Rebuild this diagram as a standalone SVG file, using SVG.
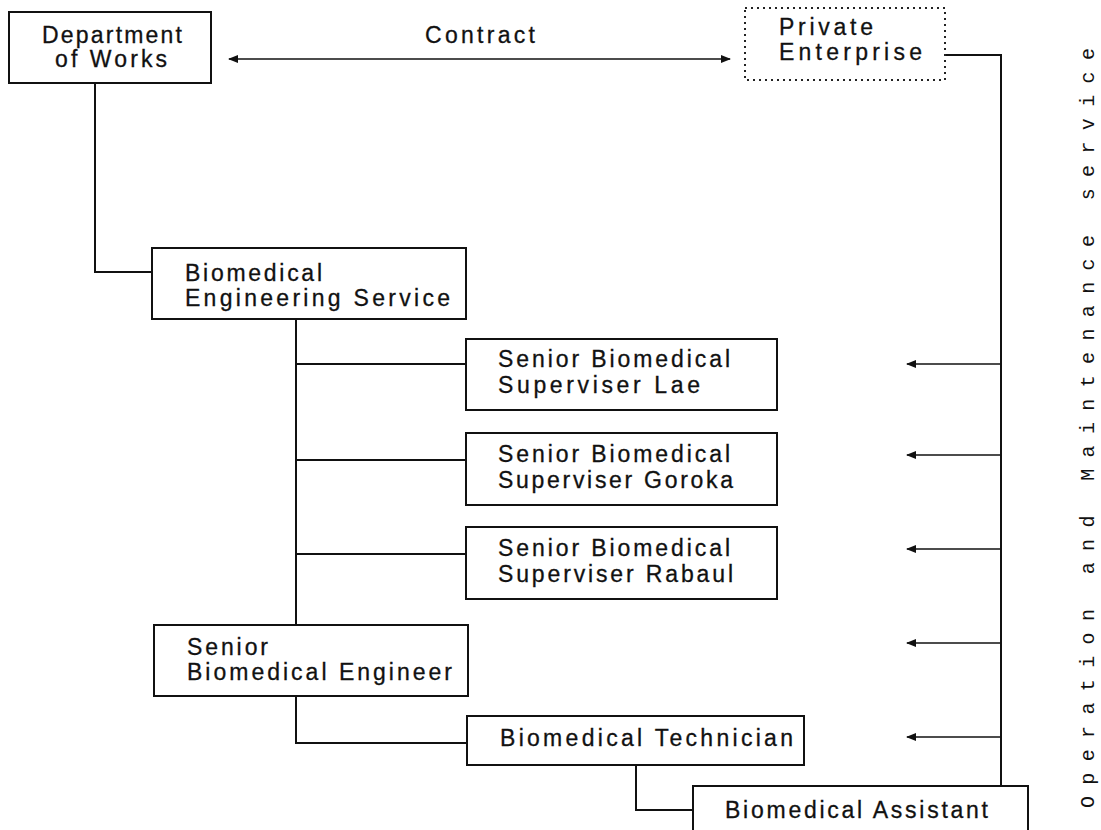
<svg xmlns="http://www.w3.org/2000/svg" width="1101" height="830" viewBox="0 0 1101 830">
<style>
.box{fill:#fff;stroke:#111;stroke-width:2}
.dot{fill:#fff;stroke:#222;stroke-width:2;stroke-dasharray:2 4}
.t{font-family:"Liberation Sans",Arial,sans-serif;font-size:23px;fill:#111;stroke:#111;stroke-width:0.3}
.ln{fill:none;stroke:#111;stroke-width:2}
.ar{fill:none;stroke:#111;stroke-width:1.6}
.v{font-family:"Liberation Mono","Courier New",monospace;font-size:20px;fill:#111}
</style>
<defs>
<marker id="ah" viewBox="0 0 10 10" refX="9" refY="5" markerWidth="10" markerHeight="10" markerUnits="userSpaceOnUse" orient="auto-start-reverse">
<path d="M0,1 L10,5 L0,9 Z" fill="#111"/>
</marker>
</defs>
<rect width="1101" height="830" fill="#fff"/>
<g id="connectors">
<line class="ar" x1="229" y1="59" x2="730" y2="59" marker-start="url(#ah)" marker-end="url(#ah)"/>
<polyline class="ln" points="95,83 95,272 152,272"/>
<polyline class="ln" points="945,55 1001,55 1001,786"/>
<line class="ln" x1="296" y1="320" x2="296" y2="625"/>
<line class="ln" x1="296" y1="364" x2="466" y2="364"/>
<line class="ln" x1="296" y1="460" x2="466" y2="460"/>
<line class="ln" x1="296" y1="554" x2="466" y2="554"/>
<polyline class="ln" points="296,696 296,743 467,743"/>
<polyline class="ln" points="636,765 636,810 693,810"/>
<line class="ar" x1="1001" y1="364" x2="907" y2="364" marker-end="url(#ah)"/>
<line class="ar" x1="1001" y1="455" x2="907" y2="455" marker-end="url(#ah)"/>
<line class="ar" x1="1001" y1="549" x2="907" y2="549" marker-end="url(#ah)"/>
<line class="ar" x1="1001" y1="643" x2="907" y2="643" marker-end="url(#ah)"/>
<line class="ar" x1="1001" y1="737" x2="907" y2="737" marker-end="url(#ah)"/>
<text class="t" x="425" y="43" textLength="110">Contract</text>
</g>
<g id="dept-works">
<rect class="box" x="9" y="12" width="202" height="71"/>
<text class="t" x="42" y="43" textLength="140">Department</text>
<text class="t" x="55" y="67" textLength="112">of Works</text>
</g>
<g id="private-enterprise">
<rect class="dot" x="745" y="8" width="200" height="72"/>
<text class="t" x="779" y="35" textLength="94">Private</text>
<text class="t" x="779" y="60" textLength="143">Enterprise</text>
</g>
<g id="bes">
<rect class="box" x="152" y="248" width="314" height="71"/>
<text class="t" x="185" y="281" textLength="137">Biomedical</text>
<text class="t" x="185" y="306" textLength="265">Engineering Service</text>
</g>
<g id="sup-lae">
<rect class="box" x="466" y="339" width="311" height="71"/>
<text class="t" x="498" y="367" textLength="232">Senior Biomedical</text>
<text class="t" x="498" y="393" textLength="202">Superviser Lae</text>
</g>
<g id="sup-goroka">
<rect class="box" x="466" y="433" width="311" height="72"/>
<text class="t" x="498" y="462" textLength="232">Senior Biomedical</text>
<text class="t" x="498" y="488" textLength="235">Superviser Goroka</text>
</g>
<g id="sup-rabaul">
<rect class="box" x="466" y="527" width="311" height="72"/>
<text class="t" x="498" y="556" textLength="232">Senior Biomedical</text>
<text class="t" x="498" y="582" textLength="235">Superviser Rabaul</text>
</g>
<g id="sbe">
<rect class="box" x="154" y="625" width="314" height="71"/>
<text class="t" x="187" y="655" textLength="81">Senior</text>
<text class="t" x="187" y="680" textLength="265">Biomedical Engineer</text>
</g>
<g id="technician">
<rect class="box" x="467" y="716" width="337" height="49"/>
<text class="t" x="500" y="746" textLength="293">Biomedical Technician</text>
</g>
<g id="assistant">
<rect class="box" x="693" y="786" width="335" height="60"/>
<text class="t" x="725" y="818" textLength="263">Biomedical Assistant</text>
</g>
<g id="side-label">
<text class="v" transform="translate(1094,808) rotate(-90)" x="0" y="0" textLength="760" lengthAdjust="spacing">Operation and Maintenance service</text>
</g>
</svg>
